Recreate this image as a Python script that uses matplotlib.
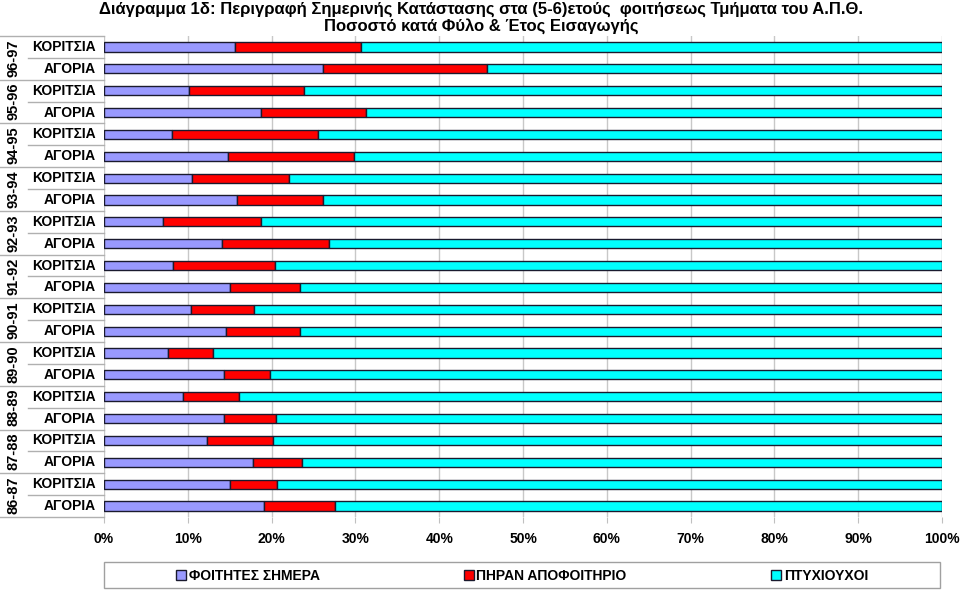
import numpy as np
import matplotlib.pyplot as plt
import matplotlib.transforms as mtransforms
from matplotlib.patches import Rectangle

plt.rcParams['font.family'] = ['Liberation Sans', 'DejaVu Sans']

# rows top to bottom: each year has ΚΟΡΙΤΣΙΑ then ΑΓΟΡΙΑ
years = ['96-97', '95-96', '94-95', '93-94', '92-93', '91-92',
         '90-91', '89-90', '88-89', '87-88', '86-87']
genders = ['ΚΟΡΙΤΣΙΑ', 'ΑΓΟΡΙΑ']

# percentages per row (same order)
students = [15.6, 26.1, 10.1, 18.7, 8.1, 14.8, 10.5, 15.9, 7.0, 14.1, 8.2,
            15.0, 10.4, 14.6, 7.6, 14.3, 9.4, 14.3, 12.3, 17.8, 15.0, 19.1]
diploma = [15.1, 19.6, 13.8, 12.6, 17.4, 15.0, 11.6, 10.2, 11.7, 12.7, 12.2,
           8.4, 7.5, 8.8, 5.4, 5.5, 6.7, 6.2, 7.9, 5.8, 5.6, 8.5]
graduates = [69.3, 54.3, 76.1, 68.7, 74.5, 70.2, 77.9, 73.9, 81.3, 73.2, 79.6,
             76.6, 82.1, 76.6, 87.0, 80.2, 83.9, 79.5, 79.8, 76.4, 79.4, 72.4]

series_names = ['ΦΟΙΤΗΤΕΣ ΣΗΜΕΡΑ', 'ΠΗΡΑΝ ΑΠΟΦΟΙΤΗΡΙΟ', 'ΠΤΥΧΙΟΥΧΟΙ']
colors = ['#9999FF', '#FF0000', '#00FFFF']

title = ('Διάγραμμα 1δ: Περιγραφή Σημερινής Κατάστασης στα (5-6)ετούς  '
         'φοιτήσεως Τμήματα του Α.Π.Θ.\nΠοσοστό κατά Φύλο & Έτος Εισαγωγής')

fig = plt.figure(figsize=(9.6, 5.9), dpi=100)
ax = fig.add_axes([104/960, 1 - 517/590, 838/960, 481/590])

y = np.arange(len(students))
left = np.zeros(len(students))
for vals, name, c in zip([students, diploma, graduates], series_names, colors):
    ax.barh(y, vals, left=left, height=0.42, color=c, edgecolor='#1a1a2e',
            linewidth=1, label=name, zorder=3)
    left += np.array(vals)

ax.set_xticks(np.arange(0, 101, 10))
ax.set_xticklabels([f'{v}%' for v in range(0, 101, 10)],
                   fontsize=10, fontweight='bold')
ax.tick_params(axis='x', length=4, color='#c0c0c0', pad=7)
ax.set_yticks([])
ax.grid(axis='x', color='#c8c8c8', linewidth=1, zorder=0)
for s in ax.spines.values():
    s.set_visible(False)

# two level category labels on the left
trans = mtransforms.blended_transform_factory(fig.transFigure, ax.transData)
x_edge = 104/960
for i, yr in enumerate(years):
    ax.text(13/960, 2*i + 0.5, yr, transform=trans, rotation=90,
            ha='center', va='center', fontsize=10.5, fontweight='bold')
    for j, g in enumerate(genders):
        ax.text(96/960, 2*i + j, g, transform=trans, ha='right', va='center',
                fontsize=10, fontweight='bold')
    ax.plot([0, x_edge], [2*i - 0.5, 2*i - 0.5], transform=trans,
            color='#b0b0b0', lw=1, clip_on=False)
    ax.plot([28/960, x_edge], [2*i + 0.5, 2*i + 0.5], transform=trans,
            color='#b0b0b0', lw=1, clip_on=False)
ax.plot([0, x_edge], [len(students) - 0.5] * 2, transform=trans,
        color='#b0b0b0', lw=1, clip_on=False)
ax.set_xlim(0, 100)
ax.set_ylim(len(students) - 0.5, -0.5)

fig.text(481/960, 1 - 2/590, title, ha='center', va='top', fontsize=12,
         fontweight='bold', linespacing=1.05)

# legend
fig.patches.append(Rectangle((104/960, 2/590), 836/960, 26/590,
                             transform=fig.transFigure, fill=False,
                             edgecolor='#a0a0a0', lw=1))
fig.legend(loc='center', bbox_to_anchor=(522/960, 1 - 576/590), ncol=3,
           frameon=False, prop={'size': 10, 'weight': 'bold'},
           handlelength=0.7, handleheight=0.7, handletextpad=0.2,
           columnspacing=10.4)

fig.savefig('out.png', dpi=100)
